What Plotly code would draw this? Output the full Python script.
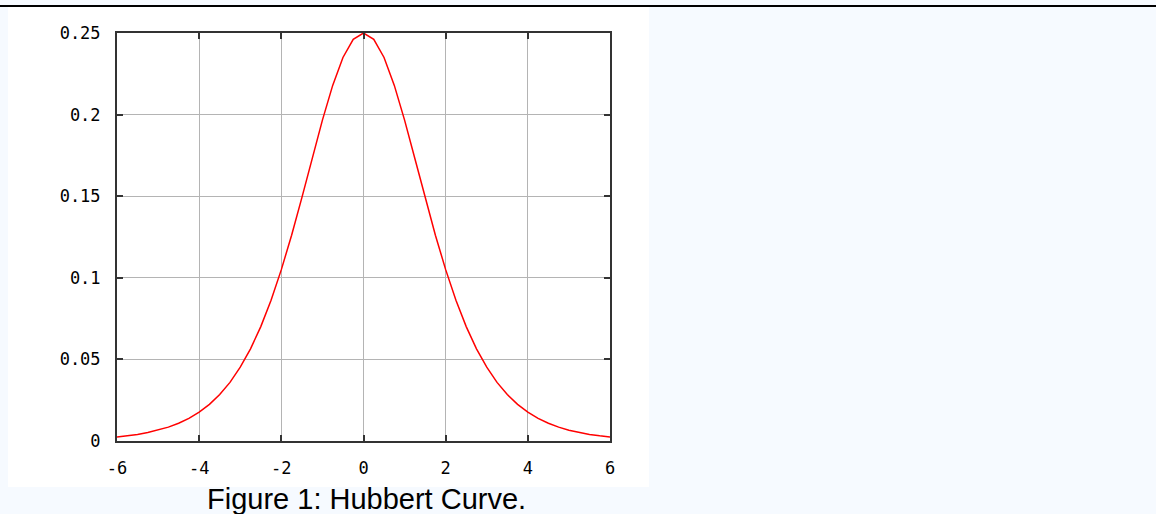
import plotly.graph_objects as go

# Data (Hubbert curve samples)
x_vals = [-6, -5.75, -5.5, -5.25, -5, -4.75, -4.5, -4.25, -4, -3.75, -3.5, -3.25, -3,
          -2.75, -2.5, -2.25, -2, -1.75, -1.5, -1.25, -1, -0.75, -0.5, -0.25, 0,
          0.25, 0.5, 0.75, 1, 1.25, 1.5, 1.75, 2, 2.25, 2.5, 2.75, 3, 3.25, 3.5,
          3.75, 4, 4.25, 4.5, 4.75, 5, 5.25, 5.5, 5.75, 6]
y_right = [0.25, 0.2461, 0.2350, 0.2179, 0.1966, 0.1731, 0.1491, 0.1261, 0.1050,
           0.0863, 0.0701, 0.0565, 0.0452, 0.0359, 0.0285, 0.02245, 0.0177, 0.01387,
           0.0109, 0.0085, 0.00665, 0.00519, 0.00405, 0.00316, 0.00247]
y_vals = y_right[::-1] + y_right[1:]

x_ticks = [-6, -4, -2, 0, 2, 4, 6]
x_tick_text = ["-6", "-4", "-2", "0", "2", "4", "6"]
y_ticks = [0, 0.05, 0.1, 0.15, 0.2, 0.25]
y_tick_text = ["0", "0.05", "0.1", "0.15", "0.2", "0.25"]
caption = "Figure 1: Hubbert Curve."

W, H = 1156, 514
L, R, T, B = 117, 610, 33, 441
pw, ph = R - L, B - T

def px(v):
    return (v - L) / pw

def py(v):
    return (B - v) / ph

fig = go.Figure()
fig.add_trace(go.Scatter(x=x_vals, y=y_vals, mode="lines",
                         line=dict(color="#ff0000", width=1.5),
                         showlegend=False, hoverinfo="skip"))

axis_common = dict(showline=True, linecolor="#333333", linewidth=2, mirror="allticks",
                   ticks="inside", ticklen=6, tickwidth=2, tickcolor="#333333",
                   showgrid=True, gridcolor="#b4b4b4", gridwidth=1, zeroline=False,
                   tickfont=dict(family="DejaVu Sans Mono", size=17, color="#000000"))

fig.update_xaxes(range=[-6, 6], tickvals=x_ticks, ticktext=x_tick_text,
                 ticklabelstandoff=11, **axis_common)
fig.update_yaxes(range=[0, 0.25], tickvals=y_ticks, ticktext=y_tick_text,
                 ticklabelstandoff=11, **axis_common)

fig.update_layout(
    width=W, height=H,
    margin=dict(l=L, r=W - R, t=T, b=H - B, pad=0),
    paper_bgcolor="#f6faff",
    plot_bgcolor="#ffffff",
    shapes=[
        dict(type="rect", xref="paper", yref="paper", layer="below",
             x0=px(8), x1=px(649), y0=py(487), y1=py(7),
             fillcolor="#ffffff", line=dict(width=0)),
        dict(type="line", xref="paper", yref="paper",
             x0=px(0), x1=px(W), y0=py(6), y1=py(6),
             line=dict(color="#000000", width=2)),
    ],
    annotations=[
        dict(text=caption, xref="paper", yref="paper", x=px(366), y=py(481),
             xanchor="center", yanchor="top", showarrow=False,
             font=dict(family="Liberation Sans", size=29, color="#000000")),
    ],
)

fig.write_html("out.html", config={"displayModeBar": False},
               post_script="document.body.style.margin='0';document.body.style.overflow='hidden';")
